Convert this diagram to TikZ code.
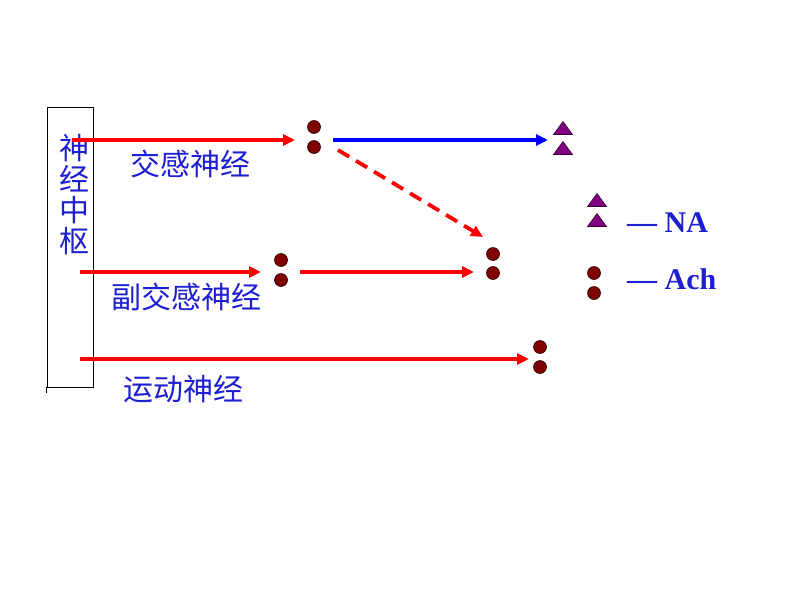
\documentclass[tikz,border=0pt]{standalone}
\usepackage{fontspec}
\setmainfont{Liberation Serif}
\newfontfamily\cjk{Noto Sans CJK SC}
\usetikzlibrary{arrows.meta}
\definecolor{dotred}{RGB}{128,0,0}
\definecolor{tripurple}{RGB}{128,0,128}
\definecolor{txtblue}{RGB}{30,30,210}
\begin{document}
\begin{tikzpicture}[x=1pt,y=-1pt,
  nerve/.style={red,line width=3.8pt,-{Triangle[length=12pt,width=11pt]}},
  symp/.style={blue,line width=3.8pt,-{Triangle[length=12pt,width=11pt]}},
  dot/.style={circle,fill=dotred,draw=black!70!dotred,line width=0.6pt,minimum size=13pt,inner sep=0pt},
  ntri/.pic={\filldraw[fill=tripurple,draw=black!60!tripurple,line width=0.6pt] (-9.5,6.5) -- (9.5,6.5) -- (0,-6.5) -- cycle;},
  cjklabel/.style={font=\cjk\fontsize{30}{31}\selectfont,text=txtblue,inner sep=0pt},
  legend/.style={font=\bfseries\fontsize{30}{30}\selectfont,text=txtblue,inner sep=0pt,anchor=west}]
\useasboundingbox (0,0) rectangle (800,600);
% central box
\node[draw=black,line width=0.8pt,minimum width=46pt,minimum height=280pt,inner sep=0pt] (cns) at (70,247) {};
\draw[line width=0.8pt] (cns.south west) -- ++(0,6);
\node[cjklabel,align=center] (cnstext) at (74,195) {神\\经\\中\\枢};
% dots
\node[dot] (s1a) at (314,127) {};
\node[dot] (s1b) at (314,147) {};
\node[dot] (e1a) at (493,254) {};
\node[dot] (e1b) at (493,273) {};
\node[dot] (p1a) at (281,260) {};
\node[dot] (p1b) at (281,280) {};
\node[dot] (m1a) at (540,347) {};
\node[dot] (m1b) at (540,367) {};
\pic at (563,128) {ntri};
\pic at (563,148) {ntri};
% legend
\pic at (597,200) {ntri};
\pic at (597,220) {ntri};
\node[dot] (lda) at (594,273) {};
\node[dot] (ldb) at (594,293) {};
\node[legend] (na) at (627,223) {— NA};
\node[legend] (ach) at (627,279) {— Ach};
% coordinates
\coordinate (a1s) at (72,140);
\coordinate (a1e) at (295,140);
\coordinate (b1s) at (333,140);
\coordinate (b1e) at (548,140);
\coordinate (d1s) at (338,150);
\coordinate (d1e) at (483,237);
\coordinate (a2s) at (80,272);
\coordinate (a2e) at (261,272);
\coordinate (a3s) at (300,272);
\coordinate (a3e) at (474,272);
\coordinate (a4s) at (80,359);
\coordinate (a4e) at (529,359);
% arrows
\draw[nerve] (a1s) -- (a1e);
\draw[symp] (b1s) -- (b1e);
\draw[nerve,dash pattern=on 13pt off 8pt] (d1s) -- (d1e);
\draw[nerve] (a2s) -- (a2e);
\draw[nerve] (a3s) -- (a3e);
\draw[nerve] (a4s) -- (a4e);
% labels
\node[cjklabel] (l1) at (190,164) {交感神经};
\node[cjklabel] (l2) at (186,297) {副交感神经};
\node[cjklabel] (l3) at (183,389) {运动神经};
\end{tikzpicture}
\end{document}
